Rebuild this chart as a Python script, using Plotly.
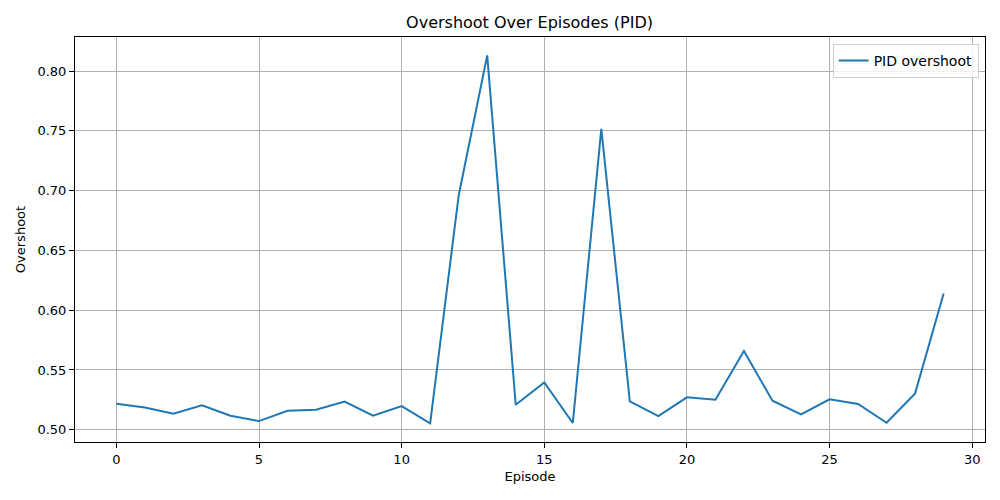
import plotly.graph_objects as go

# overshoot per episode
episodes = list(range(30))
overshoot = [0.5217, 0.5186, 0.5133, 0.5205, 0.5117, 0.5072, 0.5158, 0.5167,
             0.5236, 0.5117, 0.5197, 0.5053, 0.6960, 0.8132, 0.5208, 0.5396,
             0.5056, 0.7517, 0.5237, 0.5114, 0.5271, 0.5251, 0.5659, 0.5242,
             0.5129, 0.5254, 0.5215, 0.5058, 0.5304, 0.6140]

x_ticks = [0, 5, 10, 15, 20, 25, 30]
y_ticks = [0.50, 0.55, 0.60, 0.65, 0.70, 0.75, 0.80]

font = "DejaVu Sans"

fig = go.Figure()
fig.add_trace(go.Scatter(
    x=episodes,
    y=overshoot,
    mode="lines",
    name="PID overshoot",
    line={"color": "#1f77b4", "width": 2},
))

axis_common = dict(
    showline=True, linecolor="black", linewidth=1, mirror=True,
    ticks="outside", ticklen=5, tickwidth=1, tickcolor="black",
    showgrid=True, gridcolor="#b0b0b0", gridwidth=1,
    zeroline=False,
    tickfont={"family": font, "size": 13, "color": "black"},
)

# page body has an 8px margin, so the figure is sized to fit inside the window
fig.update_layout(
    width=984, height=484,
    paper_bgcolor="white", plot_bgcolor="white",
    margin={"l": 67, "r": 7, "t": 29, "b": 50},
    font={"family": font, "color": "black"},
    title={"text": "Overshoot Over Episodes (PID)", "x": 0.530, "xanchor": "center",
           "y": 0.971, "yanchor": "middle", "font": {"family": font, "size": 16}},
    xaxis=dict(axis_common, range=[-1.45, 30.45], tickvals=x_ticks,
               title={"text": "Episode", "font": {"size": 13}, "standoff": 6}),
    yaxis=dict(axis_common, range=[0.4897, 0.8286], tickvals=y_ticks, tickformat=".2f",
               title={"text": "Overshoot", "font": {"size": 13}, "standoff": 8}),
    showlegend=True,
    legend={"x": 0.993, "y": 0.983, "xanchor": "right", "yanchor": "top",
            "bordercolor": "#d0d0d0", "borderwidth": 1, "bgcolor": "rgba(255,255,255,0.8)",
            "font": {"family": font, "size": 14}},
)

fig.write_html("out.html")
